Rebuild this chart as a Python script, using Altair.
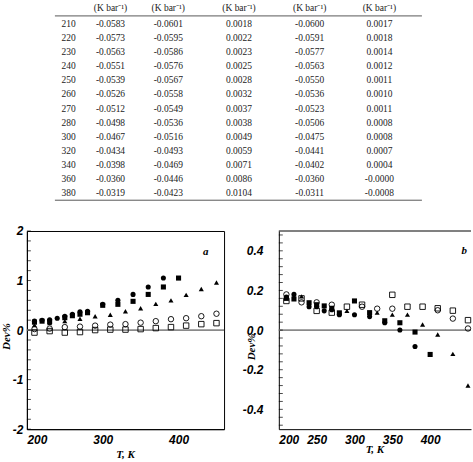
import altair as alt
import pandas as pd

# ---------------- table ----------------
TEMPS = [210, 220, 230, 240, 250, 260, 270, 280, 300, 320, 340, 360, 380]
COL_1 = ["-0.0583", "-0.0573", "-0.0563", "-0.0551", "-0.0539", "-0.0526", "-0.0512",
         "-0.0498", "-0.0467", "-0.0434", "-0.0398", "-0.0360", "-0.0319"]
COL_2 = ["-0.0601", "-0.0595", "-0.0586", "-0.0576", "-0.0567", "-0.0558", "-0.0549",
         "-0.0536", "-0.0516", "-0.0493", "-0.0469", "-0.0446", "-0.0423"]
COL_3 = ["0.0018", "0.0022", "0.0023", "0.0025", "0.0028", "0.0032", "0.0037",
         "0.0038", "0.0049", "0.0059", "0.0071", "0.0086", "0.0104"]
COL_4 = ["-0.0600", "-0.0591", "-0.0577", "-0.0563", "-0.0550", "-0.0536", "-0.0523",
         "-0.0506", "-0.0475", "-0.0441", "-0.0402", "-0.0360", "-0.0311"]
COL_5 = ["0.0017", "0.0018", "0.0014", "0.0012", "0.0011", "0.0010", "0.0011",
         "0.0008", "0.0008", "0.0007", "0.0004", "-0.0000", "-0.0008"]
UNIT = "(K bar\u207b\u00b9)"

# ---------------- panel a ----------------
A_CIRC_T = [210, 220, 230, 240, 250, 260, 270, 280, 300, 320, 340, 360, 380]
A_CIRC = [0.18, 0.20, 0.21, 0.24, 0.28, 0.32, 0.37, 0.38, 0.52, 0.60, 0.72, 0.87, 1.05]
A_SQR_T = [210, 220, 230, 250, 260, 270, 280, 300, 320, 340, 360, 380, 400]
A_SQR = [0.16, 0.18, 0.17, 0.25, 0.29, 0.32, 0.35, 0.50, 0.52, 0.58, 0.72, 0.87, 1.05]
A_TRI_T = [210, 230, 250, 270, 290, 310, 330, 350, 370, 390, 410, 430, 450]
A_TRI = [0.10, 0.14, 0.18, 0.23, 0.28, 0.31, 0.38, 0.44, 0.53, 0.60, 0.71, 0.83, 0.96]
A_OCIRC_T = [210, 230, 250, 270, 290, 310, 330, 350, 370, 390, 410, 430, 450]
A_OCIRC = [0.02, 0.03, 0.06, 0.07, 0.09, 0.11, 0.12, 0.15, 0.18, 0.22, 0.24, 0.28, 0.33]
A_OSQR_T = [210, 230, 250, 270, 290, 310, 330, 350, 370, 390, 410, 430, 450]
A_OSQR = [-0.05, -0.02, -0.05, -0.04, 0.00, 0.01, 0.01, 0.02, 0.04, 0.06, 0.09, 0.12, 0.14]

# ---------------- panel b ----------------
B_CIRC_T = [210, 220, 240, 250, 260, 270, 280, 300, 320, 340, 360, 380]
B_CIRC = [0.167, 0.18, 0.118, 0.118, 0.097, 0.103, 0.077, 0.077, 0.068, 0.037, 0.0, -0.083]
B_SQR_T = [210, 220, 240, 250, 260, 270, 280, 300, 320, 340, 360, 380, 400]
B_SQR = [0.16, 0.157, 0.138, 0.128, 0.122, 0.11, 0.087, 0.147, 0.088, 0.047, 0.037, -0.01, -0.123]
B_TRI_T = [230, 290, 330, 350, 370, 390, 410, 430, 450]
B_TRI = [0.17, 0.097, 0.088, 0.078, 0.078, 0.028, -0.022, -0.12, -0.28]
B_OCIRC_T = [210, 230, 250, 270, 310, 330, 350, 410, 430, 450]
B_OCIRC = [0.18, 0.14, 0.14, 0.128, 0.118, 0.108, 0.108, 0.10, 0.058, 0.008]
B_OSQR_T = [210, 230, 250, 270, 290, 310, 350, 370, 390, 410, 430, 450]
B_OSQR = [0.147, 0.16, 0.097, 0.088, 0.118, 0.128, 0.178, 0.118, 0.118, 0.11, 0.098, 0.05]

A_X_TICKS = [200, 250, 300, 350, 400, 450]
B_X_TICKS = [200, 250, 300, 350, 400]
A_Y_TICKS = [-2, -1, 0, 1, 2]
B_Y_TICKS = [-0.4, -0.2, 0.0, 0.2, 0.4]
A_MINOR = [round(-2 + 0.2 * i, 2) for i in range(21)]
B_MINOR = [round(-0.48 + 0.04 * i, 2) for i in range(25)]

SERIF = "Liberation Serif"
SANS = "Liberation Sans"

# ---------------- table chart ----------------
cells = []
for r, t in enumerate(TEMPS):
    cells.append({"row": r, "col": 0, "txt": str(t)})
    for c, col in enumerate([COL_1, COL_2, COL_3, COL_4, COL_5], start=1):
        cells.append({"row": r, "col": c, "txt": col[r]})
for c in range(1, 6):
    cells.append({"row": -1, "col": c, "txt": UNIT})
cells_df = pd.DataFrame(cells)

col_scale = alt.Scale(domain=[0, 1, 2, 3, 4, 5], range=[42, 84, 142, 213, 284, 354])
row_scale = alt.Scale(domain=[-1, 0, 12], range=[7, 23, 193])

table_text = alt.Chart(cells_df).mark_text(
    font=SERIF, fontSize=9.5, color="#222", align="center", baseline="middle"
).encode(
    x=alt.X("col:Q", scale=col_scale, axis=None),
    y=alt.Y("row:Q", scale=row_scale, axis=None),
    text="txt:N",
)

# horizontal rules above and below the body of the table
rules_df = pd.DataFrame({"c0": [-0.33, -0.33], "c1": [5.61, 5.61], "row": [-0.5, 12.5]})
table_rules = alt.Chart(rules_df).mark_rule(color="#444", strokeWidth=0.9).encode(
    x=alt.X("c0:Q", scale=col_scale, axis=None),
    x2="c1:Q",
    y=alt.Y("row:Q", scale=row_scale, axis=None),
)

table = alt.layer(table_text, table_rules).properties(
    width=440, height=205, view=alt.ViewBackground(strokeWidth=0, stroke="transparent")
)


# ---------------- deviation panels ----------------
def neg_hyphen(fmt):
    return f"datum.value < 0 ? '-' + format(-datum.value, '{fmt}') : format(datum.value, '{fmt}')"


def panel(series, xdom, width, xticks, ydom, yticks, yfmt, minor, lab_pad,
          ytitle_pos, xtitle_pos, letter, letter_pos, framed):
    x_enc = alt.X(
        "T:Q",
        scale=alt.Scale(domain=xdom, nice=False, zero=False),
        axis=alt.Axis(
            values=xticks, format="d", title=None, grid=False,
            ticks=False, tickSize=0, labelPadding=5,
            labelFont=SANS, labelFontSize=12, labelFontWeight="bold",
            labelFontStyle="italic", labelColor="black", domainColor="black",
        ),
    )
    y_enc = alt.Y(
        "dev:Q",
        scale=alt.Scale(domain=ydom, nice=False, zero=False),
        axis=alt.Axis(
            values=yticks, labelExpr=neg_hyphen(yfmt), title=None, grid=False,
            ticks=False, tickSize=0, labelPadding=lab_pad,
            labelFont=SANS, labelFontSize=12, labelFontWeight="bold",
            labelFontStyle="italic", labelColor="black", domainColor="black",
        ),
    )

    zero = alt.Chart(pd.DataFrame({"dev": [0]})).mark_rule(
        color="#8a8a8a", strokeWidth=1.6
    ).encode(y=y_enc)

    ticks = alt.Chart(pd.DataFrame({"dev": minor})).mark_tick(
        orient="horizontal", size=4, thickness=1, color="black", xOffset=2
    ).encode(x=alt.XDatum(xdom[0]), y=y_enc)

    layers = [zero, ticks]
    if not framed:
        # top border of the plot area
        layers.append(
            alt.Chart(pd.DataFrame({"dev": [ydom[1]]})).mark_rule(
                color="black", strokeWidth=1
            ).encode(y=y_enc)
        )
    for temps, devs, shape, filled in series:
        df = pd.DataFrame({"T": temps, "dev": devs})
        layers.append(
            alt.Chart(df).mark_point(
                shape=shape, filled=filled, color="black", opacity=1,
                size=26 if filled else 30, strokeWidth=0.9,
            ).encode(x=x_enc, y=y_enc)
        )

    text_style = dict(font=SERIF, fontStyle="italic", fontWeight="bold", color="black",
                      align="center", baseline="middle")
    letter_mark = alt.Chart(pd.DataFrame({"t": [letter]})).mark_text(
        fontSize=11, **text_style
    ).encode(x=alt.XDatum(letter_pos[0]), y=alt.YDatum(letter_pos[1]), text="t:N")
    ytitle = alt.Chart(pd.DataFrame({"t": ["Dev%"]})).mark_text(
        fontSize=11, angle=270, **text_style
    ).encode(x=alt.XDatum(ytitle_pos[0]), y=alt.YDatum(ytitle_pos[1]), text="t:N")
    xtitle = alt.Chart(pd.DataFrame({"t": ["T, K"]})).mark_text(
        fontSize=11, **text_style
    ).encode(x=alt.XDatum(xtitle_pos[0]), y=alt.YDatum(xtitle_pos[1]), text="t:N")
    layers += [letter_mark, ytitle, xtitle]

    props = dict(width=width, height=199)
    if not framed:
        props["view"] = alt.ViewBackground(strokeWidth=0, stroke="transparent")
    return alt.layer(*layers).properties(**props)


panel_a = panel(
    [
        (A_OSQR_T, A_OSQR, "square", False),
        (A_OCIRC_T, A_OCIRC, "circle", False),
        (A_TRI_T, A_TRI, "triangle-up", True),
        (A_SQR_T, A_SQR, "square", True),
        (A_CIRC_T, A_CIRC, "circle", True),
    ],
    [200, 460], 198, A_X_TICKS,
    [-2, 2], A_Y_TICKS, "d", A_MINOR, 4,
    (173.3, -0.13), (330, -2.52), "a", (436, 1.58), True,
)

panel_b = panel(
    [
        (B_OSQR_T, B_OSQR, "square", False),
        (B_OCIRC_T, B_OCIRC, "circle", False),
        (B_TRI_T, B_TRI, "triangle-up", True),
        (B_SQR_T, B_SQR, "square", True),
        (B_CIRC_T, B_CIRC, "circle", True),
    ],
    [200, 454], 193, B_X_TICKS,
    [-0.5, 0.5], B_Y_TICKS, ".1f", B_MINOR, 16,
    (164.5, -0.085), (327, -0.605), "b", (445, 0.40), False,
)

chart = alt.vconcat(
    table,
    alt.hconcat(panel_a, panel_b, spacing=55, bounds="flush"),
    spacing=26,
    bounds="flush",
).properties(padding=0).configure_view(stroke="black", strokeWidth=1)

chart.save("out.html", embed_options={"renderer": "svg", "actions": False})
